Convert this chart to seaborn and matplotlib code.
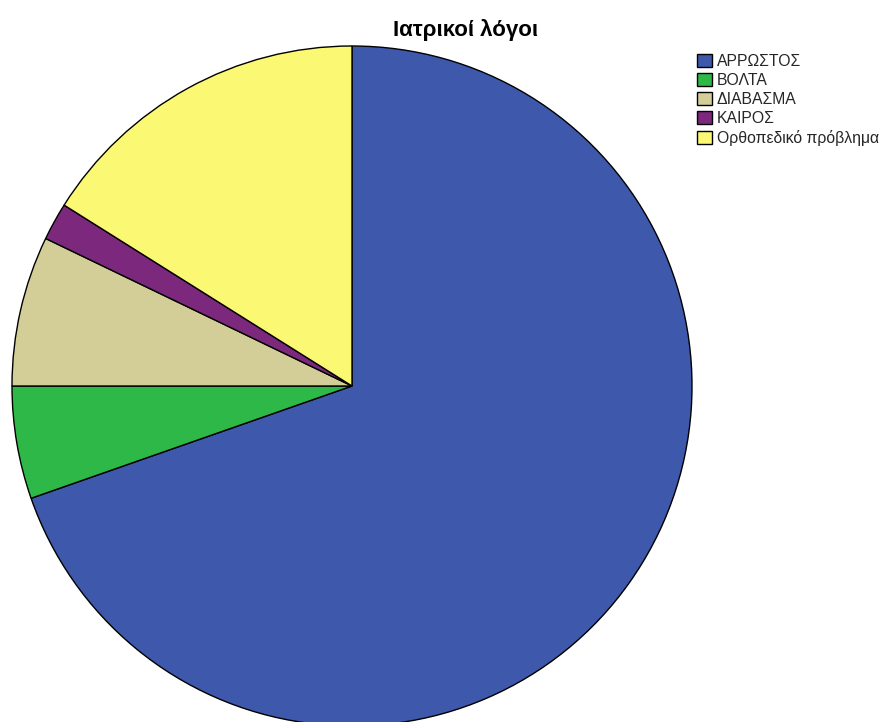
import matplotlib
matplotlib.use("Agg")
import matplotlib.pyplot as plt
from matplotlib.patches import Patch
import seaborn as sns

# Reasons and their counts
categories = ["ΑΡΡΩΣΤΟΣ", "ΒΟΛΤΑ", "ΔΙΑΒΑΣΜΑ", "ΚΑΙΡΟΣ", "Ορθοπεδικό πρόβλημα"]
counts = [39, 3, 4, 1, 9]
colors = ["#3E58AC", "#2EB848", "#D3CE97", "#7C287D", "#FBF873"]
title = "Ιατρικοί λόγοι"

sns.set_theme(style="white")
plt.rcParams["font.family"] = ["Liberation Sans", "DejaVu Sans"]
palette = sns.color_palette(colors)

W, H = 887, 722
fig = plt.figure(figsize=(W / 100, H / 100), dpi=100)
ax = fig.add_axes([0, 0, 1, 1])

# Axes in pixel units: pie centred at (352, 386) from the top, radius 340
cx, cy, r = 352, H - 386, 340
ax.pie(counts, colors=palette, startangle=90, counterclock=False,
       center=(cx, cy), radius=r,
       wedgeprops=dict(edgecolor="black", linewidth=1.0))
ax.set_xlim(0, W)
ax.set_ylim(0, H)
ax.set_aspect("equal")
ax.axis("off")

fig.text(466 / W, 1 - 30 / H, title, ha="center", va="center",
         fontsize=16, fontweight="bold", color="black")

handles = [Patch(facecolor=c, edgecolor="black", linewidth=1.0) for c in palette]
fig.legend(handles, categories, loc="upper left",
           bbox_to_anchor=(686 / W, 1 - 43 / H), frameon=False,
           fontsize=11.3, handlelength=0.95, handleheight=0.9,
           handletextpad=0.3, labelspacing=0.25, borderpad=0.2)

fig.savefig("out.png", dpi=100)
